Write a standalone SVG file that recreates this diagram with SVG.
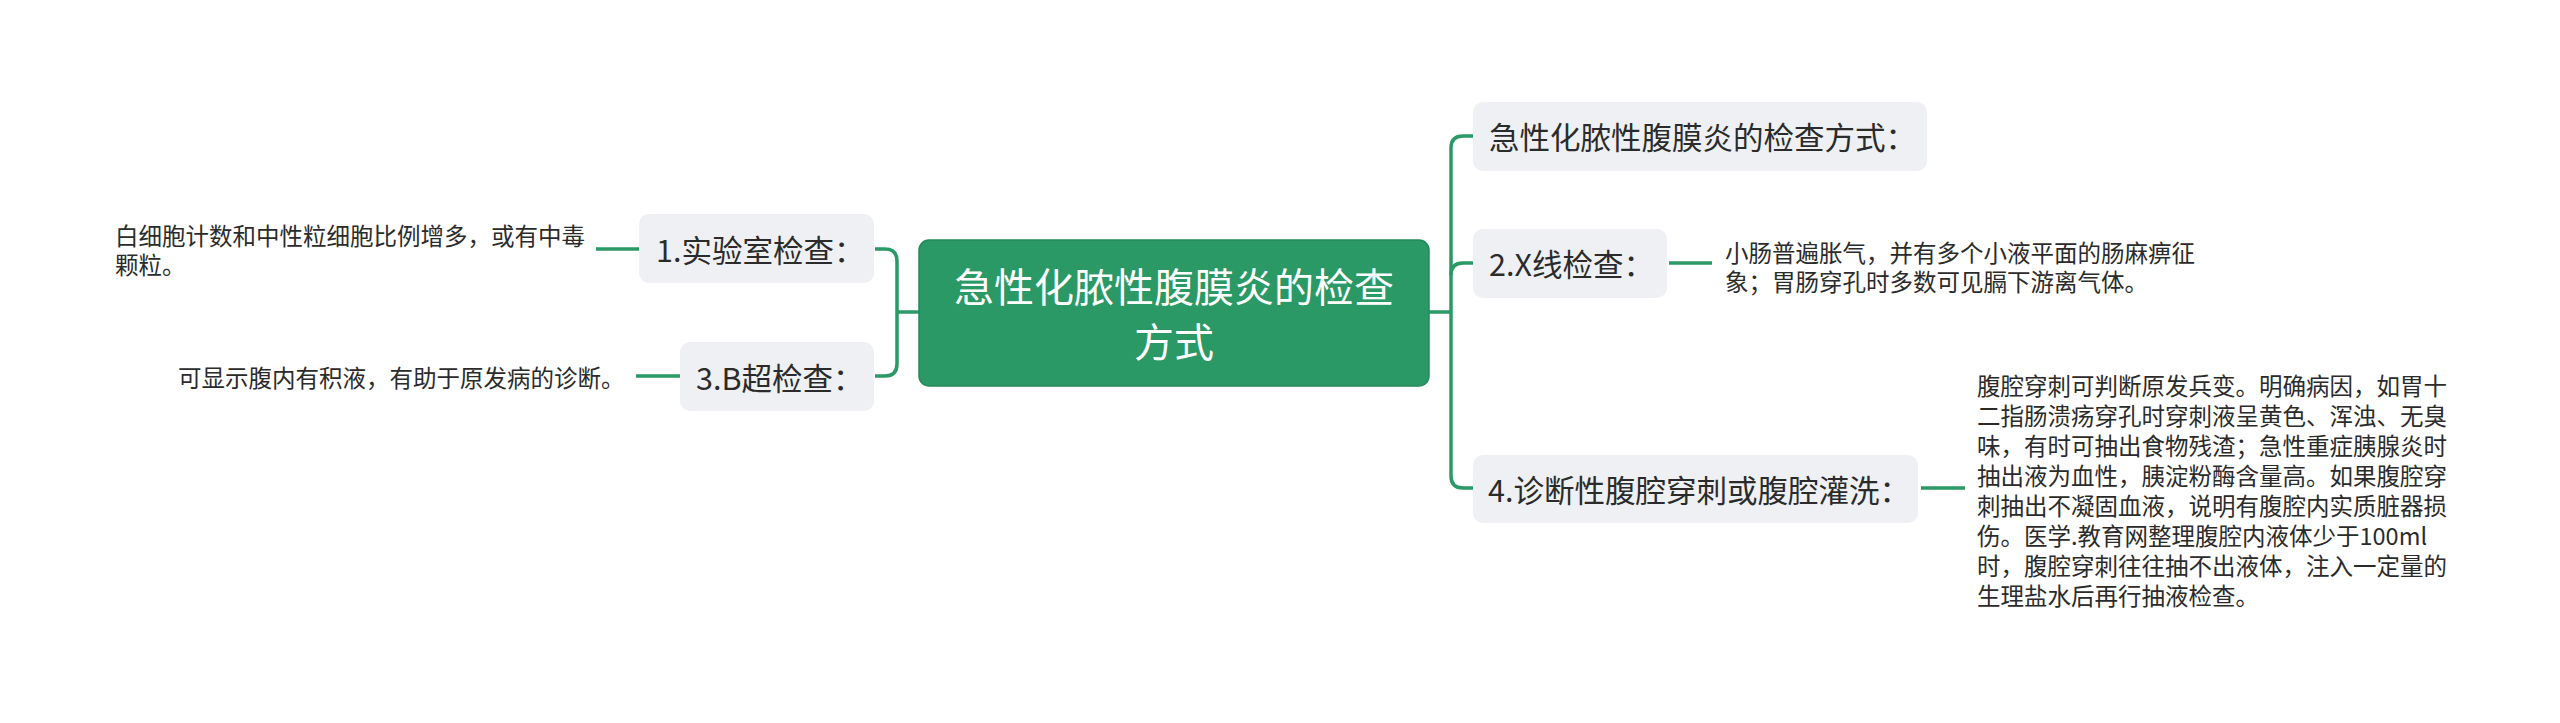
<svg xmlns="http://www.w3.org/2000/svg" width="2560" height="723" viewBox="0 0 2560 723">
<style>
.bg{fill:#ffffff}
.conn{fill:none;stroke:#2a9966;stroke-width:3.5;stroke-linecap:butt}
.root{fill:#2a9966;stroke:#24895b;stroke-width:1.5}
.sub{fill:#eef0f3}
text{font-family:"Noto Sans CJK SC","Noto Sans",sans-serif;dominant-baseline:central}
.rt{fill:#ffffff;font-size:40px;text-anchor:middle}
.st{fill:#2b2b2b;font-size:30.5px}
.lt{fill:#2b2b2b;font-size:23.5px}
</style>
<rect class="bg" x="0" y="0" width="2560" height="723"/>
<g id="connectors">
<path class="conn" d="M919,312 H897"/>
<path class="conn" d="M875,249 H885 Q897,249 897,261 V364 Q897,376 885,376 H875"/>
<path class="conn" d="M596,249 H639"/>
<path class="conn" d="M636,376 H680"/>
<path class="conn" d="M1429,312 H1451"/>
<path class="conn" d="M1473,136 H1463 Q1451,136 1451,148 V476 Q1451,488 1463,488 H1473"/>
<path class="conn" d="M1451,275 Q1451,263 1463,263 H1473"/>
<path class="conn" d="M1669,263 H1712"/>
<path class="conn" d="M1921,488 H1965"/>
</g>
<g id="root">
<rect class="root" x="919" y="240" width="510" height="146" rx="10"/>
<text class="rt" x="1174" y="285">急性化脓性腹膜炎的检查</text>
<text class="rt" x="1174" y="340">方式</text>
</g>
<g id="node-lab">
<rect class="sub" x="639" y="214" width="235" height="69" rx="10"/>
<text class="st" x="656" y="249">1.实验室检查：</text>
</g>
<g id="leaf-lab">
<text class="lt" x="115" y="235">白细胞计数和中性粒细胞比例增多，或有中毒</text>
<text class="lt" x="115" y="264">颗粒。</text>
</g>
<g id="node-b">
<rect class="sub" x="680" y="342" width="194" height="69" rx="10"/>
<text class="st" x="696" y="377">3.B超检查：</text>
</g>
<g id="leaf-b">
<text class="lt" x="178" y="377">可显示腹内有积液，有助于原发病的诊断。</text>
</g>
<g id="node-title">
<rect class="sub" x="1473" y="102" width="454" height="69" rx="10"/>
<text class="st" x="1489" y="136">急性化脓性腹膜炎的检查方式：</text>
</g>
<g id="node-x">
<rect class="sub" x="1473" y="229" width="194" height="69" rx="10"/>
<text class="st" x="1489" y="263">2.X线检查：</text>
</g>
<g id="leaf-x">
<text class="lt" x="1725" y="252">小肠普遍胀气，并有多个小液平面的肠麻痹征</text>
<text class="lt" x="1725" y="281">象；胃肠穿孔时多数可见膈下游离气体。</text>
</g>
<g id="node-4">
<rect class="sub" x="1473" y="455" width="445" height="68" rx="10"/>
<text class="st" x="1488" y="489">4.诊断性腹腔穿刺或腹腔灌洗：</text>
</g>
<g id="leaf-4">
<text class="lt" x="1977" y="385">腹腔穿刺可判断原发兵变。明确病因，如胃十</text>
<text class="lt" x="1977" y="415">二指肠溃疡穿孔时穿刺液呈黄色、浑浊、无臭</text>
<text class="lt" x="1977" y="445">味，有时可抽出食物残渣；急性重症胰腺炎时</text>
<text class="lt" x="1977" y="475">抽出液为血性，胰淀粉酶含量高。如果腹腔穿</text>
<text class="lt" x="1977" y="505">刺抽出不凝固血液，说明有腹腔内实质脏器损</text>
<text class="lt" x="1977" y="535">伤。医学.教育网整理腹腔内液体少于100ml</text>
<text class="lt" x="1977" y="565">时，腹腔穿刺往往抽不出液体，注入一定量的</text>
<text class="lt" x="1977" y="595">生理盐水后再行抽液检查。</text>
</g>
</svg>
